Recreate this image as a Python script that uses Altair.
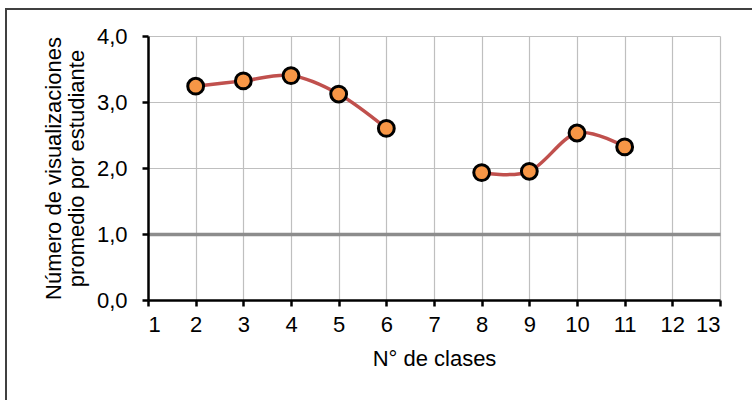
import altair as alt
import pandas as pd

clases = [2, 3, 4, 5, 6, 8, 9, 10, 11]
visualizaciones = [3.24, 3.32, 3.40, 3.12, 2.60, 1.93, 1.95, 2.53, 2.32]
tramo = ["A", "A", "A", "A", "A", "B", "B", "B", "B"]

x_ticks = list(range(1, 14))
y_ticks = [0, 0.5, 1, 1.5, 2, 2.5, 3, 3.5, 4]

df = pd.DataFrame({"clase": clases, "valor": visualizaciones, "tramo": tramo})

FONT = "Liberation Sans"
FS = 22

x_enc = alt.X(
    "clase:Q",
    scale=alt.Scale(domain=[1, 13], nice=False, zero=False),
    axis=alt.Axis(
        values=x_ticks,
        title="N° de clases",
        grid=True,
        gridColor="#bfbfbf",
        gridWidth=1.2,
        domainColor="black",
        domainWidth=2.5,
        tickColor="black",
        tickWidth=2.5,
        tickSize=6,
        labelPadding=8,
        labelFontSize=FS,
        labelColor="black",
        labelFont=FONT,
        titleFont=FONT,
        titleFontSize=FS,
        titleFontWeight="normal",
        titleColor="black",
        titlePadding=13,
    ),
)

y_enc = alt.Y(
    "valor:Q",
    scale=alt.Scale(domain=[0, 4], nice=False),
    axis=alt.Axis(
        values=y_ticks,
        title=["Número de visualizaciones", "promedio por estudiante"],
        grid=True,
        gridColor={"condition": {"test": "datum.value === 1", "value": "#8c8c8c"}, "value": "#bfbfbf"},
        gridWidth={"condition": {"test": "datum.value === 1", "value": 3.5}, "value": 1.2},
        domainColor="black",
        domainWidth=2.5,
        tickColor="black",
        tickWidth=2.5,
        tickSize=6,
        tickOpacity={"condition": {"test": "datum.value % 1 === 0", "value": 1}, "value": 0},
        labelExpr="datum.value % 1 === 0 ? replace(format(datum.value, '.1f'), '.', ',') : ''",
        labelPadding=15,
        labelFontSize=FS,
        labelColor="black",
        labelFont=FONT,
        titleFont=FONT,
        titleFontSize=FS,
        titleFontWeight="normal",
        titleColor="black",
        titlePadding=8,
        titleLineHeight=23,
    ),
)

base = alt.Chart(df)

line = base.mark_line(color="#c0504d", strokeWidth=3.5, interpolate="cardinal").encode(
    x=x_enc, y=y_enc, detail="tramo:N"
)

points = base.mark_point(
    filled=True, fill="#f79646", stroke="black", strokeWidth=3, size=250, opacity=1, shape="circle"
).encode(x="clase:Q", y="valor:Q")

dummy = alt.Data(values=[{}])
frame_left = alt.Chart(dummy).mark_rule(color="#404040", strokeWidth=2).encode(
    x=alt.value(-142), y=alt.value(-27), y2=alt.value(420)
)
frame_top = alt.Chart(dummy).mark_rule(color="#404040", strokeWidth=2).encode(
    x=alt.value(-143), x2=alt.value(700), y=alt.value(-27)
)

chart = (
    alt.layer(line, points, frame_left, frame_top)
    .properties(
        width=572,
        height=264,
        autosize=alt.AutoSizeParams(type="none"),
        padding={"left": 148, "top": 36, "right": 32, "bottom": 100},
        background="white",
    )
    .configure_view(stroke=None)
)

chart.save("out.html", embed_options={"renderer": "svg", "actions": False})
